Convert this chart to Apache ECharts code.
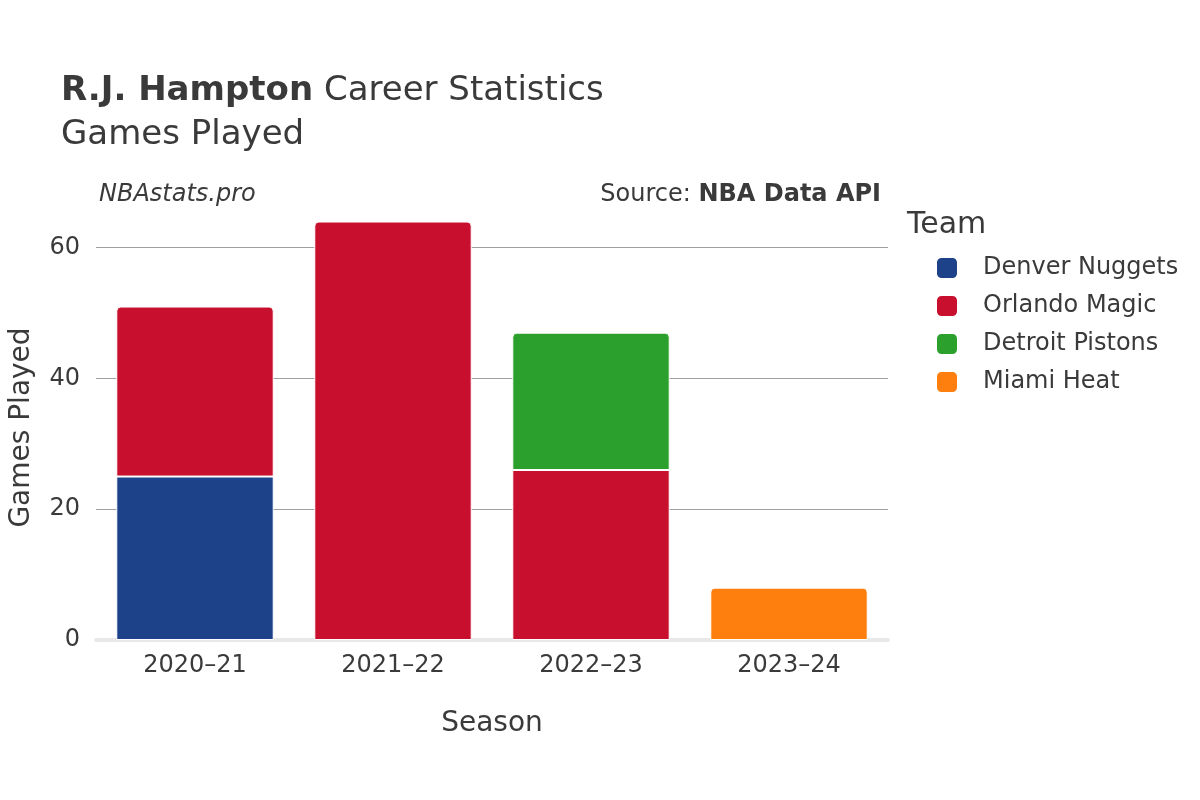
<!DOCTYPE html>
<html><head><meta charset="utf-8">
<script src="https://cdn.jsdelivr.net/npm/echarts@6/dist/echarts.min.js"></script>
<style>html,body{margin:0;padding:0;background:#fff}#c{width:1200px;height:800px}</style>
</head><body><div id="c"></div>
<script>
const seasons = ['2020–21','2021–22','2022–23','2023–24'];
const teams = ['Denver Nuggets','Orlando Magic','Detroit Pistons','Miami Heat'];
const colors = ['#1d428a','#c8102e','#2ca02c','#ff7f0e'];
const denver = [25, null, null, null];
const orlando = [26, 64, 26, null];
const detroit = [null, null, 21, null];
const miami = [null, null, null, 8];
const values = [denver, orlando, detroit, miami];
const yTicks = [0, 20, 40, 60];

function topIndex(i){ let t=-1; values.forEach((v,k)=>{ if(v[i]!=null) t=k; }); return t; }
const F = 'DejaVu Sans';
const series = teams.map((name,k)=>({
  name, type:'bar', stack:'s', barCategoryGap:'20.5%',
  itemStyle:{color:colors[k], borderColor:'#fff', borderWidth:1},
  data: values[k].map((v,i)=> v==null? null : ({value:v, itemStyle:{borderRadius: topIndex(i)===k?[4,4,0,0]:0}}))
}));
const chart = echarts.init(document.getElementById('c'));
chart.setOption({
  animation:false,
  title:[
    {text:'{b|R.J. Hampton} Career Statistics', left:56, top:69, textStyle:{fontFamily:F, fontSize:34, color:'#3a3a3a', fontWeight:'normal', rich:{b:{fontFamily:F,fontSize:34,fontWeight:'bold',color:'#3a3a3a'}}}},
    {text:'Games Played', left:56, top:113, textStyle:{fontFamily:F, fontSize:34, color:'#3a3a3a', fontWeight:'normal'}},
    {text:'NBAstats.pro', left:94, top:178, textStyle:{fontFamily:F, fontSize:24, color:'#3a3a3a', fontStyle:'italic', fontWeight:'normal'}},
    {text:'Source: {b|NBA Data API}', right:314, top:178, textStyle:{fontFamily:F, fontSize:24, color:'#3a3a3a', fontWeight:'normal', rich:{b:{fontFamily:F,fontSize:24,fontWeight:'bold',color:'#3a3a3a'}}}}
  ],
  legend:{orient:'vertical', left:930, top:251, itemWidth:22, itemHeight:22, itemGap:14, icon:'roundRect',
    data:teams, textStyle:{fontFamily:F, fontSize:24, color:'#3a3a3a', padding:[0,0,0,20]}},
  graphic:[{type:'text', left:907, top:210, style:{text:'Team', font:'30px "DejaVu Sans"', fill:'#3a3a3a'}}],
  grid:{left:91, right:312, top:215, bottom:160},
  xAxis:{type:'category', data:seasons, name:'Season', nameLocation:'middle', nameGap:70,
    nameTextStyle:{fontFamily:F, fontSize:28, color:'#3a3a3a'},
    axisLine:{lineStyle:{color:'#e8e8e8', width:4}}, axisTick:{show:false},
    axisLabel:{fontFamily:F, fontSize:24, color:'#3a3a3a', margin:14}},
  yAxis:{type:'value', min:0, max:65, interval:20, name:'Games Played', nameLocation:'middle', nameGap:60,
    nameTextStyle:{fontFamily:F, fontSize:28, color:'#3a3a3a'},
    axisLabel:{fontFamily:F, fontSize:24, color:'#3a3a3a', margin:16, formatter:v=>yTicks.includes(v)?String(v):''},
    splitLine:{showMaxLine:false, lineStyle:{color:'#a0a0a0'}}},
  series
});
</script></body></html>
